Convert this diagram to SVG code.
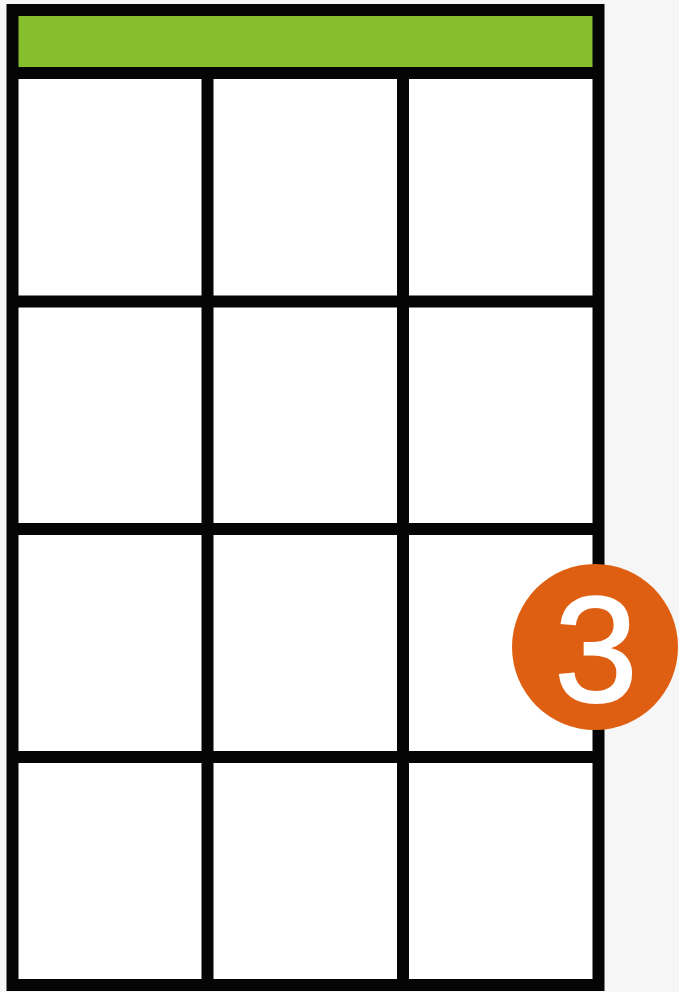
<svg xmlns="http://www.w3.org/2000/svg" width="679" height="992" viewBox="0 0 679 992">
  <style>
    .ln { stroke: #050505; stroke-width: 12; fill: none; }
    .cell { fill: #ffffff; }
    .num { font-family: "Liberation Sans", Arial, sans-serif; font-size: 150px; fill: #ffffff; stroke: #ffffff; stroke-width: 2; text-anchor: middle; }
  </style>
  <rect x="0" y="0" width="679" height="992" fill="#f6f6f6"/>
  <g id="board">
    <rect class="cell" x="12.5" y="10" width="586" height="975"/>
    <rect id="nut" x="12.5" y="10" width="586" height="63" fill="#86bf2e"/>
  </g>
  <g id="grid">
    <line class="ln" x1="207.5" y1="73" x2="207.5" y2="985"/>
    <line class="ln" x1="403" y1="73" x2="403" y2="985"/>
    <line class="ln" x1="12.5" y1="73" x2="598.5" y2="73"/>
    <line class="ln" x1="12.5" y1="301.5" x2="598.5" y2="301.5"/>
    <line class="ln" x1="12.5" y1="529" x2="598.5" y2="529"/>
    <line class="ln" x1="12.5" y1="757" x2="598.5" y2="757"/>
    <rect class="ln" x="12.5" y="10" width="586" height="975"/>
  </g>
  <g id="finger3">
    <circle cx="595" cy="647" r="83" fill="#df5f12"/>
    <text class="num" x="596" y="702">3</text>
  </g>
</svg>
